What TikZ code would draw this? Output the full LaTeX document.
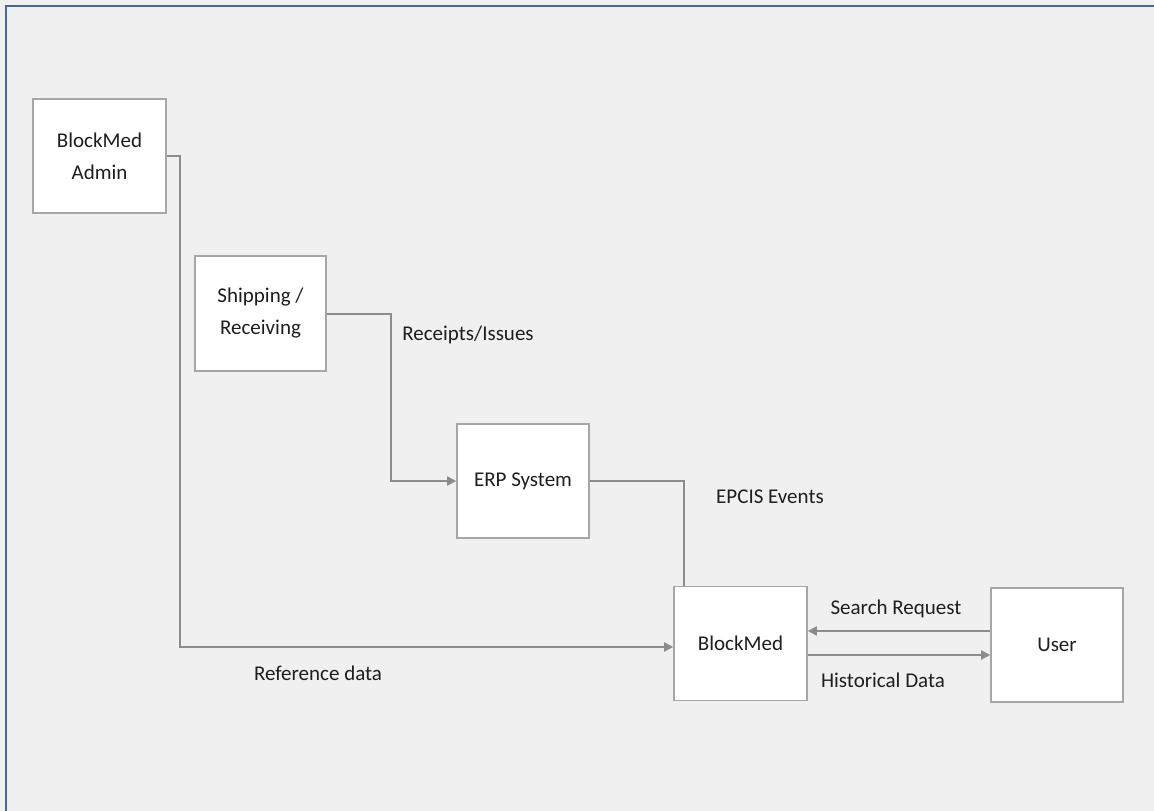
\documentclass[tikz,border=0pt]{standalone}
\usepackage{fontspec}
\setmainfont{Carlito}
\usetikzlibrary{arrows.meta}
\definecolor{bg}{HTML}{F0F0F0}
\definecolor{boxline}{HTML}{A6A6A6}
\definecolor{conn}{HTML}{8C8C8C}
\definecolor{txt}{HTML}{1E1E1E}
\definecolor{frame}{HTML}{4A6694}
\begin{document}
\begin{tikzpicture}[x=1pt,y=-1pt,
  box/.style={draw=boxline,line width=1.6pt,fill=white,minimum width=133pt,minimum height=114pt,
    align=center,text=txt,font=\fontsize{21}{32}\selectfont,inner sep=0pt},
  lbl/.style={text=txt,font=\fontsize{21}{25}\selectfont,inner sep=0pt},
  conn/.style={draw=conn,line width=1.8pt},
  arr/.style={conn,-{Triangle[length=9pt,width=9pt]}}]
\useasboundingbox (0,0) rectangle (1154,811);
\fill[bg] (0,0) rectangle (1154,811);
\draw[frame,line width=2pt] (6,811) -- (6,6) -- (1154,6);

\node[box] (admin) at (99.5,156) {BlockMed\\Admin};
\node[box,minimum width=131pt,minimum height=115pt] (ship) at (260.5,313.5) {Shipping /\\Receiving};
\node[box,minimum width=132pt] (erp) at (523,481) {ERP System};
\node[box] (bm) at (740.5,643.5) {BlockMed};
\node[box,minimum width=132pt] (user) at (1057,645) {User};

\coordinate (a1) at (180,156);
\coordinate (a2) at (180,647);
\coordinate (s1) at (391,314);
\coordinate (s2) at (391,481);
\coordinate (e1) at (684,481);

\draw[arr] (admin.east |- a1) -- (a1) -- (a2) -- (bm.west |- a2);
\draw[arr] (ship.east |- s1) -- (s1) -- (s2) -- (erp.west |- s2);
\draw[conn] (erp.east |- e1) -- (e1) -- (e1 |- bm.north);
\draw[arr] (user.west |- 0,631) -- (bm.east |- 0,631);
\draw[arr] (bm.east |- 0,655) -- (user.west |- 0,655);

\node[lbl] (l1) at (318,673) {Reference data};
\node[lbl] (l2) at (468,335) {Receipts/Issues};
\node[lbl] (l3) at (770,497) {EPCIS Events};
\node[lbl] (l4) at (896,609) {Search Request};
\node[lbl] (l5) at (883,680) {Historical Data};
\end{tikzpicture}
\end{document}
